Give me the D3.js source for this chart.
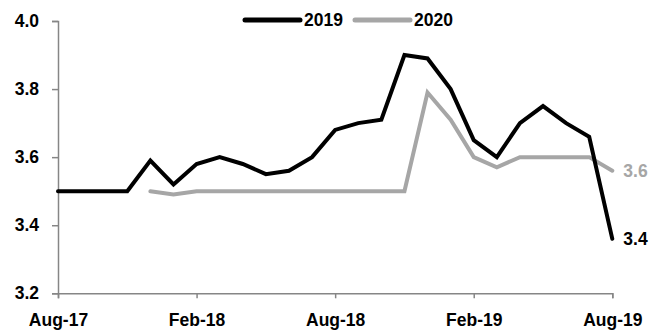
<!DOCTYPE html>
<html>
<head>
<meta charset="utf-8">
<script src="https://cdn.jsdelivr.net/npm/d3@7"></script>
<style>
  html, body { margin: 0; padding: 0; background: #fff; }
  svg text { font-family: "Liberation Sans", Arial, sans-serif; font-weight: bold; }
</style>
</head>
<body>
<svg id="chart" width="651" height="333"></svg>
<script>
// Monthly observations, Aug-17 through Aug-19
const months = ["Aug-17","Sep-17","Oct-17","Nov-17","Dec-17","Jan-18","Feb-18","Mar-18","Apr-18","May-18","Jun-18","Jul-18",
                "Aug-18","Sep-18","Oct-18","Nov-18","Dec-18","Jan-19","Feb-19","Mar-19","Apr-19","May-19","Jun-19","Jul-19","Aug-19"];
const series2019 = [3.50,3.50,3.50,3.50,3.59,3.52,3.58,3.60,3.58,3.55,3.56,3.60,
                    3.68,3.70,3.71,3.90,3.89,3.80,3.65,3.60,3.70,3.75,3.70,3.66,3.36];
const series2020 = [null,null,null,null,3.50,3.49,3.50,3.50,3.50,3.50,3.50,3.50,
                    3.50,3.50,3.50,3.50,3.79,3.71,3.60,3.57,3.60,3.60,3.60,3.60,3.56];
const xTickLabels = ["Aug-17","Feb-18","Aug-18","Feb-19","Aug-19"];
const yTicks = [3.2,3.4,3.6,3.8,4.0];
const seriesNames = ["2019","2020"];
const seriesColors = ["#000000","#a6a6a6"];

const svg = d3.select("#chart");
const plot = { left: 58, right: 612.3, top: 21, bottom: 293.3 };
const fontSize = "17.5px";

const x = d3.scalePoint().domain(months).range([plot.left, plot.right]);
const y = d3.scaleLinear().domain([3.2, 4.0]).range([plot.bottom, plot.top]);

const axisColor = "#868686";

// y axis
const yAxis = svg.append("g").attr("transform", `translate(${plot.left},0)`)
  .call(d3.axisLeft(y).tickValues(yTicks).tickFormat(d3.format(".1f")).tickSize(6).tickPadding(13));
// x axis
const xAxis = svg.append("g").attr("transform", `translate(0,${plot.bottom})`)
  .call(d3.axisBottom(x).tickValues(xTickLabels).tickSize(5).tickPadding(15));

[yAxis, xAxis].forEach(g => {
  g.select(".domain").attr("stroke", axisColor).attr("stroke-width", 1.5);
  g.selectAll(".tick line").attr("stroke", axisColor).attr("stroke-width", 1.5);
  g.selectAll(".tick text").attr("fill", "#000").style("font-size", fontSize);
});

const line = d3.line()
  .defined(d => d != null)
  .x((d, i) => x(months[i]))
  .y(d => y(d));

const lineData = [series2019, series2020];
// draw 2020 below 2019
[1, 0].forEach(k => {
  svg.append("path")
    .datum(lineData[k])
    .attr("fill", "none")
    .attr("stroke", seriesColors[k])
    .attr("stroke-width", 4)
    .attr("stroke-linejoin", "miter")
    .attr("stroke-linecap", "round")
    .attr("d", (d) => line(d));
});

// end-of-line value labels
lineData.forEach((s, k) => {
  const last = s[s.length - 1];
  svg.append("text")
    .attr("x", x(months[months.length - 1]) + 11)
    .attr("y", y(last))
    .attr("dy", "0.35em")
    .attr("fill", seriesColors[k])
    .style("font-size", fontSize)
    .text(d3.format(".1f")(last));
});

// legend
const legendItems = [{x0: 245, x1: 300, tx: 304}, {x0: 355, x1: 410, tx: 414}];
const ly = 20;
seriesNames.forEach((name, k) => {
  const it = legendItems[k];
  svg.append("line")
    .attr("x1", it.x0).attr("x2", it.x1).attr("y1", ly).attr("y2", ly)
    .attr("stroke", seriesColors[k]).attr("stroke-width", 5).attr("stroke-linecap", "round");
  svg.append("text")
    .attr("x", it.tx).attr("y", ly).attr("dy", "0.35em")
    .attr("fill", "#000").style("font-size", fontSize)
    .text(name);
});
</script>
</body>
</html>
